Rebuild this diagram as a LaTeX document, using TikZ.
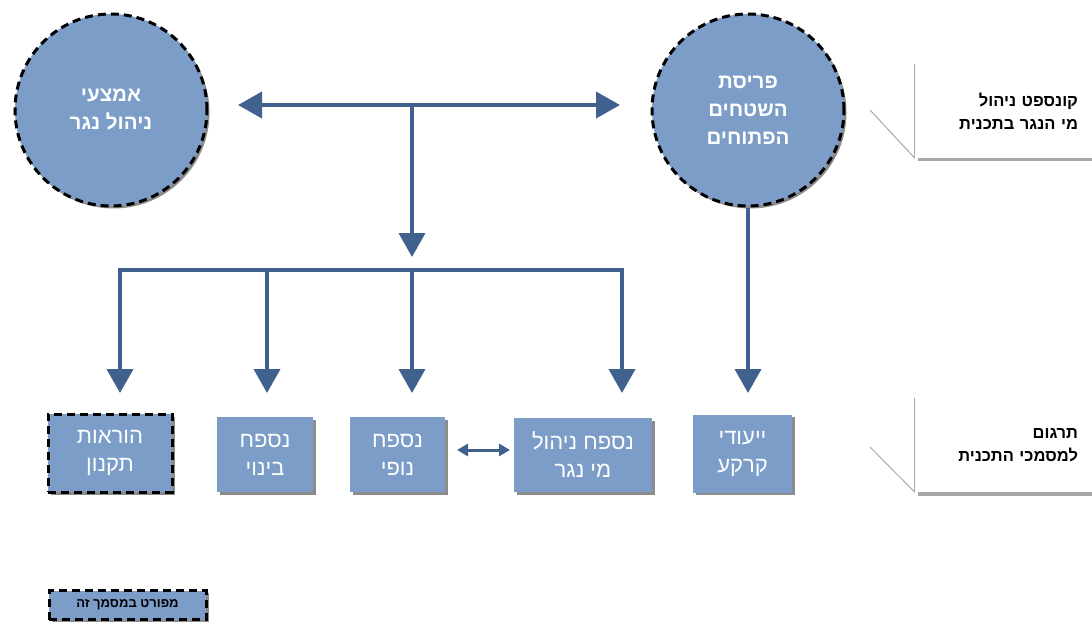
\documentclass[tikz,border=0pt]{standalone}
\usepackage{fontspec}
\usetikzlibrary{arrows.meta,shadows}
\newfontfamily\heb[Script=Hebrew]{Liberation Sans}
\TeXXeTstate=1
\definecolor{boxblue}{RGB}{123,157,200}
\definecolor{arrblue}{RGB}{64,96,142}
\definecolor{calgray}{RGB}{170,170,170}
\tikzset{
  myshadow/.style={drop shadow={shadow xshift=2.5pt,shadow yshift=-2.5pt,fill=black,opacity=0.45}},
  circ/.style={circle,fill=boxblue,draw=black,line width=3pt,dash pattern=on 8pt off 5pt,minimum size=192pt,inner sep=0pt,align=center,text=white,font=\heb\bfseries\fontsize{20.5}{28}\selectfont,myshadow},
  plainbox/.style={rectangle,fill=boxblue,inner sep=0pt,align=center,text=white,font=\heb\fontsize{22}{28}\selectfont,myshadow},
  dashbox/.style={plainbox,draw=black,line width=3pt,dash pattern=on 8pt off 5pt},
  bigarr/.style={draw=arrblue,line width=4pt},
  bigtip/.style={-{Triangle[width=26pt,length=24pt]}},
  smallarr/.style={draw=arrblue,line width=3pt,{Triangle[width=12pt,length=11pt]}-{Triangle[width=12pt,length=11pt]}},
  calbox/.style={rectangle,fill=white,inner sep=0pt,align=right,text=black,font=\heb\bfseries\fontsize{16.5}{23}\selectfont},
}
\begin{document}
\begin{tikzpicture}[x=1pt,y=-1pt]
\useasboundingbox (0,0) rectangle (1092,626);
% circles
\node[circ] (c1) at (111,110) {\beginR אמצעי\endR\\\beginR ניהול נגר\endR};
\node[circ] (c2) at (748,110) {\beginR פריסת\endR\\\beginR השטחים\endR\\\beginR הפתוחים\endR};
% boxes
\node[dashbox,minimum width=124pt,minimum height=78pt] (b1) at (110,453) {\beginR הוראות\endR\\\beginR תקנון\endR};
\node[plainbox,minimum width=96pt,minimum height=75pt] (b2) at (265,454.5) {\beginR נספח\endR\\\beginR בינוי\endR};
\node[plainbox,minimum width=95pt,minimum height=75pt] (b3) at (397.5,454.5) {\beginR נספח\endR\\\beginR נופי\endR};
\node[plainbox,minimum width=138pt,minimum height=74pt] (b4) at (583,455) {\beginR נספח ניהול\endR\\\beginR מי נגר\endR};
\node[plainbox,minimum width=99pt,minimum height=78pt] (b5) at (742.5,453.5) {\beginR ייעודי\endR\\\beginR קרקע\endR};
% legend
\node[dashbox,minimum width=157pt,minimum height=29pt,text=black,font=\heb\bfseries\fontsize{13}{15}\selectfont] (lg) at (127.5,605) {\beginR מפורט במסמך זה\endR};
% callouts
\fill[white] (870,110) -- (915,95) -- (915,157) -- cycle;
\fill[black,opacity=0.35] (918,157) rectangle (1092,160.5);
\node[calbox,minimum width=177pt,minimum height=94pt,text width=149pt] (k1) at (1003.5,111) {\beginR קונספט ניהול\endR\\\beginR מי הנגר בתכנית\endR};
\draw[calgray,line width=1.2pt] (k1.north west) -- (k1.south west);
\draw[calgray,line width=1pt] (870,110) -- (k1.south west);
\fill[black,opacity=0.35] (918,492) rectangle (1092,495.5);
\node[calbox,minimum width=177pt,minimum height=94pt,text width=149pt] (k2) at (1003.5,445) {\beginR תרגום\endR\\\beginR למסמכי התכנית\endR};
\draw[calgray,line width=1.2pt] (k2.north west) -- (k2.south west);
\draw[calgray,line width=1pt] (870,447) -- (k2.south west);
% connectors
\coordinate (aL) at (238,105);
\coordinate (aR) at (620,105);
\coordinate (jn) at (412,105);
\coordinate (tp) at (412,257);
\coordinate (bar) at (412,270);
\coordinate (br2) at (267,270);
\coordinate (d1) at (120,393);
\coordinate (d2) at (267,393);
\coordinate (d3) at (412,393);
\coordinate (d4) at (622,393);
\coordinate (d5) at (748,393);
\coordinate (s1) at (457,450);
\coordinate (s2) at (510,450);
\draw[bigarr,{Triangle[width=26pt,length=24pt]}-{Triangle[width=26pt,length=24pt]}] (aL) -- (aR);
\draw[bigarr,bigtip] (jn) -- (tp);
\draw[bigarr,bigtip] (bar) -| (d1);
\draw[bigarr,bigtip] (bar) -| (d4);
\draw[bigarr,bigtip] (br2) -- (d2);
\draw[bigarr,bigtip] (bar) -- (d3);
\draw[bigarr,bigtip] (c2.south) -- (d5);
\draw[smallarr] (s1) -- (s2);
\end{tikzpicture}
\end{document}
